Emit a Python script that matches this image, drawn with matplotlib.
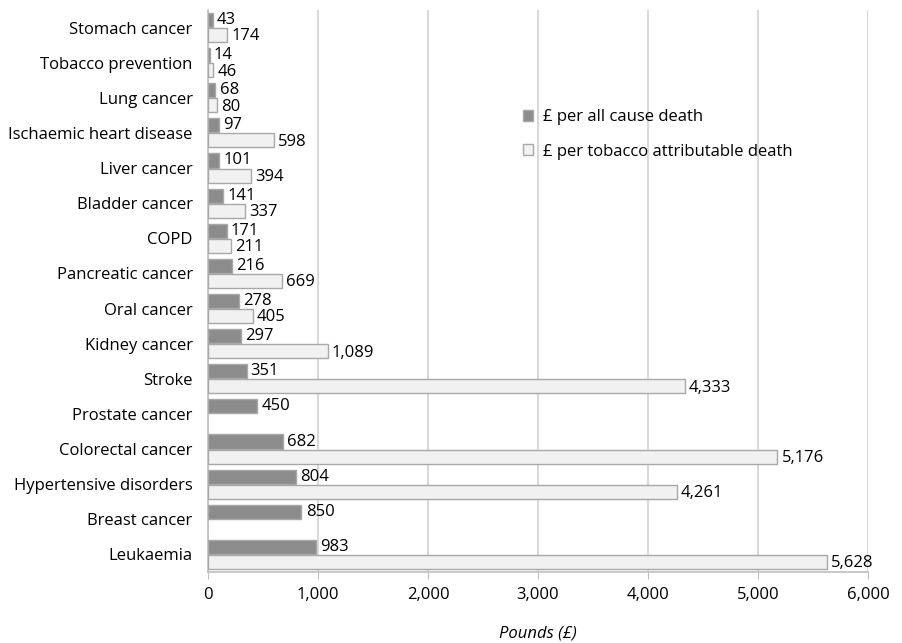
import matplotlib.pyplot as plt
import numpy as np

plt.rcParams['font.family'] = ['Open Sans', 'DejaVu Sans']

categories = ["Stomach cancer", "Tobacco prevention", "Lung cancer",
              "Ischaemic heart disease", "Liver cancer", "Bladder cancer",
              "COPD", "Pancreatic cancer", "Oral cancer", "Kidney cancer",
              "Stroke", "Prostate cancer", "Colorectal cancer",
              "Hypertensive disorders", "Breast cancer", "Leukaemia"]
all_cause = [43, 14, 68, 97, 101, 141, 171, 216, 278, 297, 351, 450, 682, 804, 850, 983]
tobacco = [174, 46, 80, 598, 394, 337, 211, 669, 405, 1089, 4333, None, 5176, 4261, None, 5628]
xticks = [0, 1000, 2000, 3000, 4000, 5000, 6000]

fig = plt.figure(figsize=(9.03, 6.43), dpi=100)
ax = fig.add_axes([0.2303, 0.1104, 0.7309, 0.8741])

y = np.arange(len(categories))
h = 0.40
off = 0.215

ax.barh(y - off, all_cause, height=h, color="#8c8c8c", edgecolor="#a8a8a8",
        linewidth=1, label="£ per all cause death", zorder=3)
tob_y = [yy + off for yy, v in zip(y, tobacco) if v is not None]
tob_v = [v for v in tobacco if v is not None]
ax.barh(tob_y, tob_v, height=h, color="#f1f1f1", edgecolor="#a8a8a8",
        linewidth=1, label="£ per tobacco attributable death", zorder=3)

for yy, v in zip(y, all_cause):
    ax.annotate(f"{v:,}", (v, yy - off), xytext=(3, 0), textcoords="offset points",
                va="center", ha="left", fontsize=12)
for yy, v in zip(tob_y, tob_v):
    ax.annotate(f"{v:,}", (v, yy), xytext=(3, -1), textcoords="offset points",
                va="center", ha="left", fontsize=12)

ax.set_ylim(15.5, -0.5)
ax.set_xlim(0, 6000)
ax.set_yticks(y)
ax.set_yticklabels(categories, fontsize=12)
ax.tick_params(axis="y", length=0, pad=11)
ax.set_xticks(xticks)
ax.set_xticklabels([f"{t:,}" for t in xticks], fontsize=12)
ax.tick_params(axis="x", length=5, color="#bfbfbf", pad=6)

ax.grid(axis="x", color="#d9d9d9", linewidth=1.5, zorder=0)
for s in ["top", "right"]:
    ax.spines[s].set_visible(False)
ax.spines["left"].set_color("#bfbfbf")
ax.spines["bottom"].set_color("#bfbfbf")
ax.spines["left"].set_linewidth(1.2)
ax.spines["bottom"].set_linewidth(1.2)

ax.set_xlabel("Pounds (£)", fontsize=12, style="italic", labelpad=16)

ax.legend(loc="upper left", bbox_to_anchor=(0.455, 0.85), frameon=False,
          fontsize=12, handlelength=0.6, handleheight=0.6, labelspacing=1.1,
          handletextpad=0.6)

fig.savefig("out.png", dpi=100)
